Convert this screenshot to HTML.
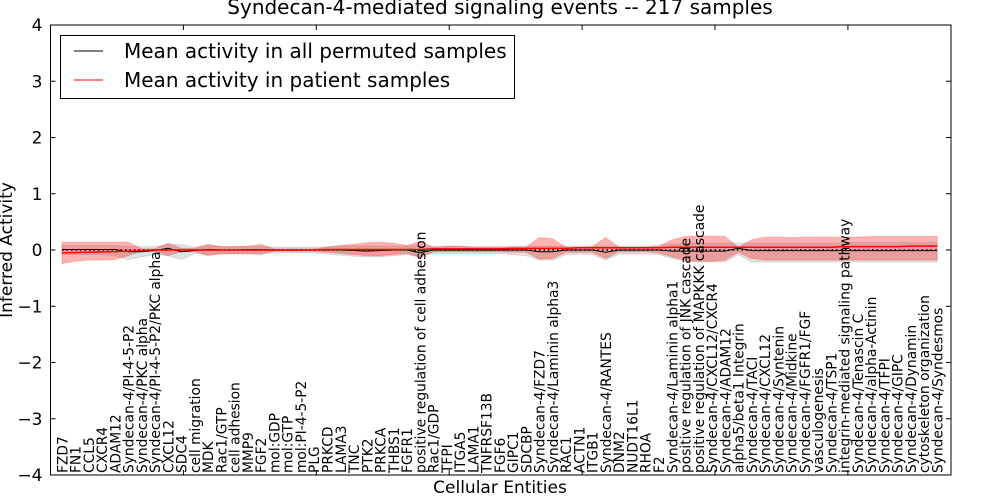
<!DOCTYPE html>
<html><head><meta charset="utf-8"><style>
body{margin:0;background:#fff;}
svg{display:block;font-family:"DejaVu Sans","Liberation Sans",sans-serif;}
</style></head><body>
<svg id="chart" width="1000" height="500" viewBox="0 0 1000 500">
<rect x="0" y="0" width="1000" height="500" fill="#fff"/>
<g id="plot"></g>
</svg>
<script>
const categories=["FZD7","FN1","CCL5","CXCR4","ADAM12","Syndecan-4/PI-4-5-P2","Syndecan-4/PKC alpha","Syndecan-4/PI-4-5-P2/PKC alpha","CXCL12","SDC4","cell migration","MDK","Rac1/GTP","cell adhesion","MMP9","FGF2","mol:GDP","mol:GTP","mol:PI-4-5-P2","PLG","PRKCD","LAMA3","TNC","PTK2","PRKCA","THBS1","FGFR1","positive regulation of cell adhesion","Rac1/GDP","TFPI","ITGA5","LAMA1","TNFRSF13B","FGF6","GIPC1","SDCBP","Syndecan-4/FZD7","Syndecan-4/Laminin alpha3","RAC1","ACTN1","ITGB1","Syndecan-4/RANTES","DNM2","NUDT16L1","RHOA","F2","Syndecan-4/Laminin alpha1","positive regulation of JNK cascade","positive regulation of MAPKKK cascade","Syndecan-4/CXCL12/CXCR4","Syndecan-4/ADAM12","alpha5/beta1 Integrin","Syndecan-4/TACI","Syndecan-4/CXCL12","Syndecan-4/Syntenin","Syndecan-4/Midkine","Syndecan-4/FGFR1/FGF","vasculogenesis","Syndecan-4/TSP1","integrin-mediated signaling pathway","Syndecan-4/Tenascin C","Syndecan-4/alpha-Actinin","Syndecan-4/TFPI","Syndecan-4/GIPC","Syndecan-4/Dynamin","cytoskeleton organization","Syndecan-4/Syndesmos"];
const blackMean=[0.01,0.01,0.01,0.01,0.01,-0.03,-0.03,-0.01,0.03,-0.03,-0.01,0.01,0.0,0.0,0.01,0.01,0.0,0.0,0.0,0.0,0.0,0.0,-0.01,-0.02,-0.01,0.0,0.0,-0.05,0.0,0.0,0.0,0.0,0.0,0.0,0.0,0.0,-0.03,-0.03,0.0,0.0,0.0,-0.04,0.0,0.0,0.0,0.0,-0.02,-0.02,-0.02,-0.02,-0.02,0.03,-0.01,-0.01,-0.01,-0.01,-0.01,-0.01,-0.01,-0.01,-0.01,-0.01,-0.01,-0.01,-0.01,-0.01,-0.01];
const redMean=[-0.05,-0.045,-0.04,-0.035,-0.03,-0.02,-0.01,0.0,0.0,0.0,0.0,0.0,0.0,0.0,0.0,0.0,0.0,0.0,0.0,0.0,0.01,0.01,0.01,0.01,0.01,0.01,0.01,0.01,0.02,0.02,0.02,0.02,0.02,0.02,0.03,0.03,0.03,0.03,0.03,0.04,0.04,0.04,0.04,0.04,0.04,0.04,0.05,0.05,0.05,0.05,0.05,0.05,0.05,0.05,0.05,0.05,0.05,0.05,0.05,0.06,0.06,0.06,0.06,0.06,0.07,0.07,0.07];
const redUpper=[0.14,0.14,0.14,0.14,0.14,0.14,0.02,0.02,0.12,0.03,0.03,0.1,0.06,0.06,0.07,0.1,0.02,0.02,0.02,0.02,0.05,0.08,0.1,0.13,0.14,0.12,0.08,0.15,0.05,0.07,0.07,0.05,0.05,0.05,0.05,0.05,0.22,0.2,0.05,0.05,0.06,0.22,0.05,0.05,0.05,0.07,0.18,0.24,0.25,0.25,0.24,0.05,0.18,0.23,0.23,0.22,0.23,0.23,0.23,0.23,0.23,0.24,0.24,0.24,0.24,0.24,0.24];
const redLower=[-0.24,-0.2,-0.18,-0.18,-0.17,-0.1,-0.02,-0.02,-0.1,-0.03,-0.03,-0.1,-0.07,-0.07,-0.07,-0.08,-0.02,-0.02,-0.02,-0.02,-0.04,-0.06,-0.08,-0.1,-0.1,-0.08,-0.06,-0.13,-0.03,-0.03,-0.03,-0.03,-0.03,-0.03,-0.04,-0.04,-0.16,-0.15,-0.04,-0.04,-0.04,-0.15,-0.03,-0.03,-0.03,-0.05,-0.12,-0.18,-0.2,-0.2,-0.18,-0.04,-0.15,-0.18,-0.18,-0.18,-0.18,-0.18,-0.18,-0.18,-0.18,-0.18,-0.18,-0.18,-0.18,-0.18,-0.18];
const greyUpper=[0.08,0.08,0.08,0.08,0.08,0.06,0.06,0.06,0.1,0.1,0.05,0.08,0.06,0.06,0.06,0.06,0.05,0.05,0.05,0.05,0.06,0.07,0.07,0.07,0.07,0.07,0.07,0.07,0.06,0.06,0.06,0.06,0.06,0.06,0.07,0.07,0.07,0.07,0.07,0.07,0.07,0.07,0.07,0.07,0.07,0.08,0.1,0.12,0.12,0.12,0.12,0.12,0.12,0.12,0.12,0.12,0.12,0.12,0.12,0.13,0.13,0.13,0.13,0.13,0.13,0.13,0.13];
const greyLower=[-0.08,-0.08,-0.08,-0.08,-0.1,-0.17,-0.12,-0.08,-0.1,-0.17,-0.06,-0.08,-0.06,-0.06,-0.06,-0.06,-0.05,-0.05,-0.05,-0.05,-0.07,-0.09,-0.11,-0.12,-0.12,-0.1,-0.08,-0.12,-0.06,-0.06,-0.06,-0.06,-0.06,-0.06,-0.08,-0.1,-0.18,-0.18,-0.08,-0.07,-0.08,-0.18,-0.07,-0.07,-0.07,-0.08,-0.15,-0.2,-0.21,-0.21,-0.21,-0.08,-0.21,-0.21,-0.21,-0.21,-0.21,-0.21,-0.21,-0.21,-0.21,-0.21,-0.21,-0.21,-0.21,-0.21,-0.21];
const yTicks=[4,3,2,1,0,-1,-2,-3,-4];
const yTickLabels=["4","3","2","1","0","\u22121","\u22122","\u22123","\u22124"];
const xTicks=[0,10,20,30,40,50,60];

const L=50.5,R=951,T=25,B=475;
function xs(i){return 62+i*13.26;}
function ys(v){return 250-v*56.25;}
const NS="http://www.w3.org/2000/svg";
const svg=document.getElementById('chart');
function mk(tag,attrs,parent){const e=document.createElementNS(NS,tag);for(const k in attrs)e.setAttribute(k,attrs[k]);(parent||svg).appendChild(e);return e;}
function band(up,lo){let d='';up.forEach((v,i)=>{d+=(i?'L':'M')+xs(i)+','+ys(v);});for(let i=lo.length-1;i>=0;i--)d+='L'+xs(i)+','+ys(lo[i]);return d+'Z';}
function line(arr){return arr.map((v,i)=>(i?'L':'M')+xs(i)+','+ys(v)).join('');}

let e;
e=mk('path',{d:band(greyUpper,greyLower),fill:'#bdbdbd','fill-opacity':'0.45',stroke:'#bdbdbd','stroke-opacity':'0.5'});


e=mk('path',{d:band(redUpper,redLower),fill:'#ff0000','fill-opacity':'0.3',stroke:'#ff0000','stroke-opacity':'0.2'});


e=mk('line',{x1:xs(0),x2:xs(categories.length-1),y1:ys(0),y2:ys(0),stroke:'#000','stroke-width':1.5,'stroke-dasharray':'1.5,3'});


e=mk('path',{d:line(blackMean),fill:'none',stroke:'#000','stroke-width':1});


e=mk('path',{d:line(redMean),fill:'none',stroke:'#ff0000','stroke-width':1.5});



e=mk('rect',{x:L,y:T,width:R-L,height:B-T,fill:'none',stroke:'#000','stroke-width':1});



yTicks.forEach((v,k)=>{
  const y=ys(v);
  let t=mk('line',{x1:L,x2:L+5,y1:y,y2:y,stroke:'#000'});
  
  
  t=mk('line',{x1:R-5,x2:R,y1:y,y2:y,stroke:'#000'});
  
  
  t=mk('text',{x:L-8,y:y+6,'text-anchor':'end','font-size':17});
  t.textContent=yTickLabels[k];
  
  
});
xTicks.forEach(v=>{
  const x=L+v*13.29;
  let t=mk('line',{x1:x,x2:x,y1:T,y2:T+5,stroke:'#000'});
  
  
  t=mk('line',{x1:x,x2:x,y1:B-5,y2:B,stroke:'#000'});
  
  
});
categories.forEach((c,i)=>{
  const x=xs(i)+5.3;
  const t=mk('text',{x:x,y:473,transform:'rotate(-90 '+x+' 473)','font-size':13.8});
  t.textContent=c;
  
  
});

e=mk('text',{x:500,y:14,'text-anchor':'middle','font-size':20});
e.textContent='Syndecan-4-mediated signaling events -- 217 samples';


e=mk('text',{x:500,y:493,'text-anchor':'middle','font-size':17});
e.textContent='Cellular Entities';


e=mk('text',{x:12,y:250,'text-anchor':'middle','font-size':17,transform:'rotate(-90 12 250)'});
e.textContent='Inferred Activity';



const lg=mk('g',{});


e=mk('rect',{x:60.5,y:35.5,width:454,height:63,fill:'#fff',stroke:'#000'},lg);


e=mk('line',{x1:74,x2:103,y1:51,y2:51,stroke:'#000'},lg);


e=mk('text',{x:124,y:58,'font-size':20},lg);
e.textContent='Mean activity in all permuted samples';


e=mk('line',{x1:74,x2:103,y1:80,y2:80,stroke:'#ff0000'},lg);


e=mk('text',{x:124,y:87,'font-size':20},lg);
e.textContent='Mean activity in patient samples';


</script>
</body></html>
